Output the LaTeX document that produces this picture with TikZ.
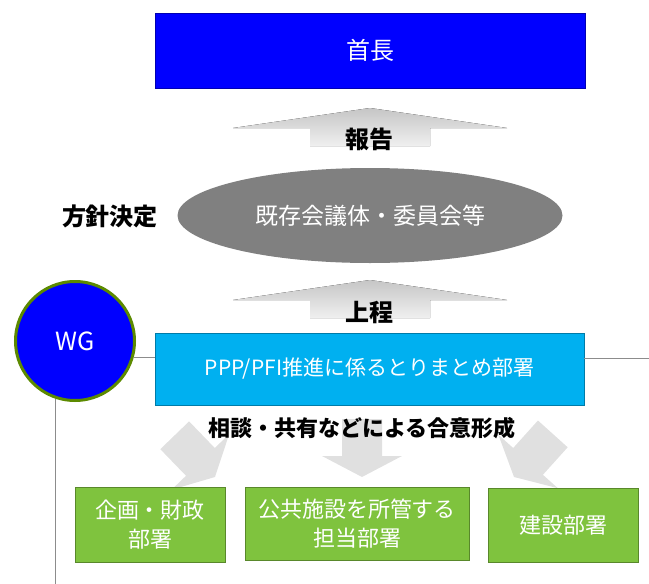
\documentclass[tikz,border=0pt]{standalone}
\usepackage{fontspec}
\setmainfont{Noto Sans CJK JP}
\usetikzlibrary{shapes.geometric}

\definecolor{chiefblue}{RGB}{0,0,255}
\definecolor{deskcyan}{RGB}{0,176,240}
\definecolor{deptgreen}{RGB}{127,195,62}
\definecolor{wgedge}{RGB}{92,138,0}
\definecolor{boardgray}{RGB}{128,128,128}
\definecolor{linkgray}{RGB}{140,140,140}

\tikzset{
  unit/.style={draw=#1!70!black, fill=#1, text=white, inner sep=0pt,
    font=\fontsize{22}{29}\selectfont, align=center},
  tag/.style={font=\fontsize{24}{28}\selectfont\bfseries, inner sep=0pt},
  uparrow/.style={shade, top color=gray!45, bottom color=gray!12, draw=none},
  downarrow/.style={fill=gray!24, draw=none},
}

\begin{document}
\begin{tikzpicture}[x=1pt,y=-1pt]
  \useasboundingbox (0,0) rectangle (649,584);

  % block arrows (behind the texts)
  \fill[uparrow] (370,108) -- (507,128) -- (430,128) -- (430,146)
    -- (310,146) -- (310,128) -- (233,128) -- cycle;
  \fill[uparrow] (370,280) -- (507,300) -- (430,300) -- (430,318)
    -- (310,318) -- (310,300) -- (233,300) -- cycle;
  \foreach \tx/\ty/\ang in {215/477/44, 362/477/0, 514/477/-42} {
    \begin{scope}[shift={(\tx,\ty)}, rotate=\ang]
      \fill[downarrow] (0,0) -- (40,-21) -- (20,-21) -- (20,-58)
        -- (-20,-58) -- (-20,-21) -- (-40,-21) -- cycle;
    \end{scope}
  }

  % main units
  \node[unit=chiefblue, minimum width=430, minimum height=75, font=\fontsize{24}{28}\selectfont] (chief) at (370,50.5) {首長};
  \node[ellipse, fill=boardgray, text=white, inner sep=0pt, minimum width=385,
    minimum height=95, font=\fontsize{23}{26}\selectfont] (board) at (370,215.5) {既存会議体・委員会等};
  \node[unit=deskcyan, minimum width=429, minimum height=72, font=\fontsize{21}{26}\selectfont] (desk) at (369.5,369) {PPP/PFI推進に係るとりまとめ部署};
  \node[circle, draw=wgedge, line width=3pt, fill=chiefblue, text=white, minimum size=119,
    inner sep=0pt, font=\fontsize{25}{28}\selectfont] (wg) at (75,341) {WG};

  % departments
  \node[unit=deptgreen, minimum width=150, minimum height=75] (plan) at (150,524.5) {企画・財政\\部署};
  \node[unit=deptgreen, minimum width=224, minimum height=73] (facil) at (357,523.5) {公共施設を所管する\\担当部署};
  \node[unit=deptgreen, minimum width=150, minimum height=74] (build) at (563,525) {建設部署};

  % labels
  \node[tag] (report) at (369,139) {報告};
  \node[tag] (decide) at (110,216) {方針決定};
  \node[tag] (submit) at (369,312) {上程};
  \node[tag, font=\fontsize{22}{26}\selectfont\bfseries] (agree) at (362,428) {相談・共有などによる合意形成};

  % thin links
  \coordinate (edgeR) at (649,358);
  \coordinate (edgeB) at (55,584);
  \draw[linkgray, line width=1pt] (wg.-16) -- (wg.-16 -| desk.west);
  \draw[linkgray, line width=1pt] (desk.east |- edgeR) -- (edgeR);
  \draw[linkgray, line width=1pt] (wg.251) -- (wg.251 |- edgeB);
\end{tikzpicture}
\end{document}
